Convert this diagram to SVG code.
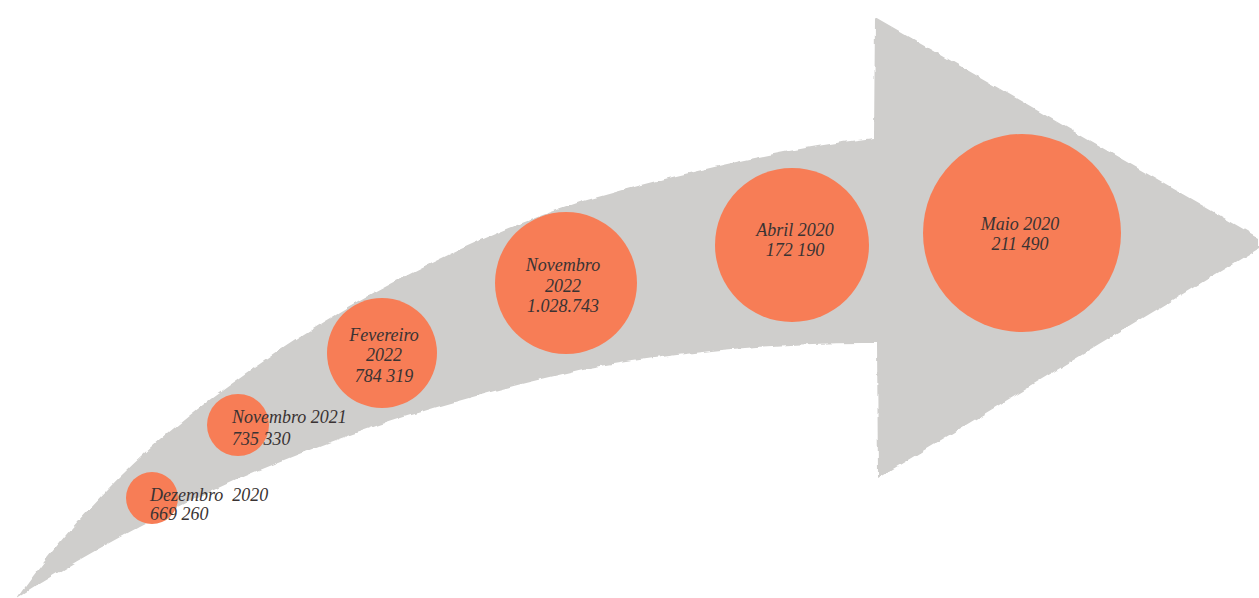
<svg xmlns="http://www.w3.org/2000/svg" width="1259" height="598" viewBox="0 0 1259 598">
<defs>
<filter id="rough" x="-5%" y="-5%" width="110%" height="110%">
<feTurbulence type="fractalNoise" baseFrequency="0.08" numOctaves="2" seed="3" result="n"/>
<feDisplacementMap in="SourceGraphic" in2="n" scale="5" xChannelSelector="R" yChannelSelector="G"/>
</filter>
<style>
.dot{fill:#F77D56;}
.lbl{font-family:"Liberation Serif","Times New Roman",serif;font-style:italic;font-size:18px;fill:#3A3333;}
.c{text-anchor:middle;}
</style>
</defs>
<rect width="1259" height="598" fill="#FFFFFF"/>
<g id="arrow" filter="url(#rough)">
<path fill="#CFCECC" d="M18,597 C65,530 135,452 230,385 C330,312 450,245 580,202 C690,170 800,146 874,138 L875,17 L1259,238 L1259,248 L878,478 L877,343 C780,342 680,352 584,369 C470,395 370,425 289,458 C200,492 100,545 18,597 Z"/>
</g>
<g id="node-dez2020">
<circle class="dot" cx="152" cy="498" r="26"/>
<text class="lbl" x="150" y="501" xml:space="preserve" style="white-space:pre">Dezembro  2020</text>
<text class="lbl" x="150" y="520">669 260</text>
</g>
<g id="node-nov2021">
<circle class="dot" cx="238" cy="425" r="31"/>
<text class="lbl" x="232" y="423">Novembro 2021</text>
<text class="lbl" x="232" y="445">735 330</text>
</g>
<g id="node-fev2022">
<circle class="dot" cx="382" cy="353" r="55"/>
<text class="lbl c" x="384" y="341">Fevereiro</text>
<text class="lbl c" x="384" y="361">2022</text>
<text class="lbl c" x="384" y="382">784 319</text>
</g>
<g id="node-nov2022">
<circle class="dot" cx="566" cy="283" r="71"/>
<text class="lbl c" x="563" y="271">Novembro</text>
<text class="lbl c" x="563" y="292">2022</text>
<text class="lbl c" x="563" y="312">1.028.743</text>
</g>
<g id="node-abr2020">
<circle class="dot" cx="792" cy="245" r="77"/>
<text class="lbl c" x="795" y="236">Abril 2020</text>
<text class="lbl c" x="795" y="256">172 190</text>
</g>
<g id="node-mai2020">
<circle class="dot" cx="1022" cy="233" r="99"/>
<text class="lbl c" x="1020" y="230">Maio 2020</text>
<text class="lbl c" x="1020" y="250">211 490</text>
</g>
</svg>
